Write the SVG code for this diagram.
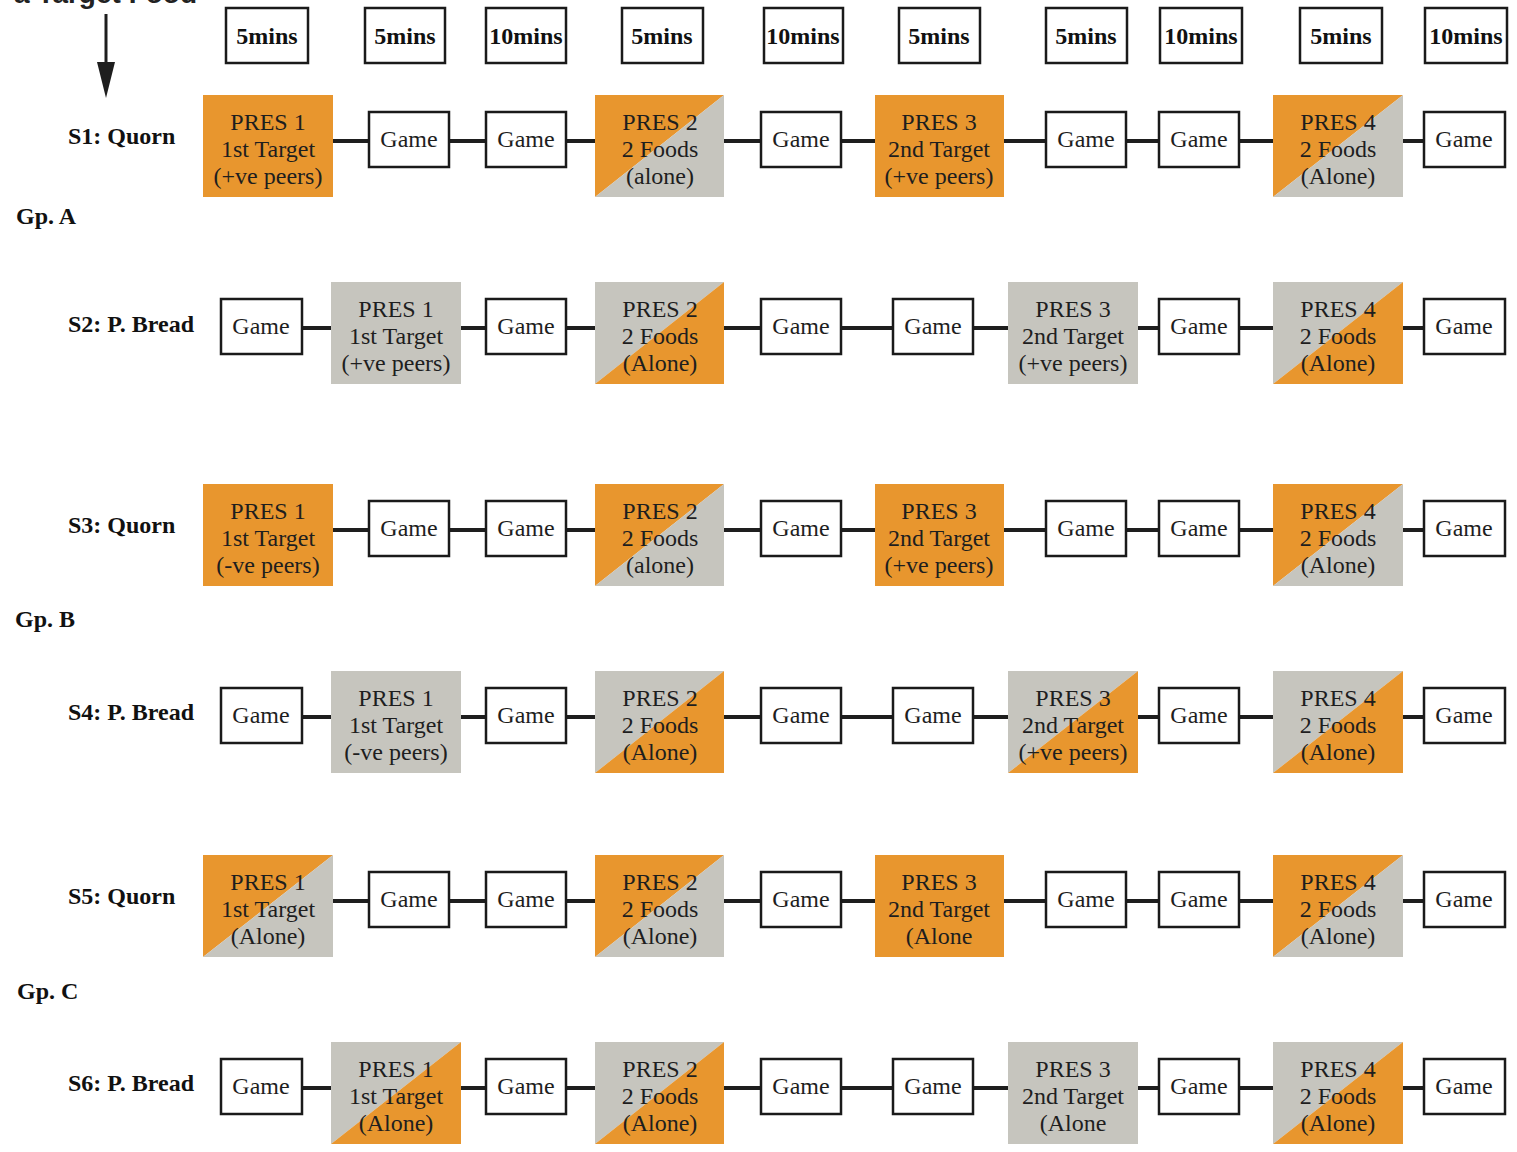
<svg xmlns="http://www.w3.org/2000/svg" width="1517" height="1152" viewBox="0 0 1517 1152">
<style>
.bg{fill:#fff}
.gm{fill:#fff;stroke:#1a1a1a;stroke-width:2.5}
.hd{fill:#fff;stroke:#1a1a1a;stroke-width:2.5}
.o{fill:#E8962E}
.gr{fill:#C6C5BE}
.t{font-family:"Liberation Serif",serif;font-size:24px;fill:#1e1e1e;text-anchor:middle}
.h{font-family:"Liberation Serif",serif;font-size:24px;font-weight:bold;fill:#111;text-anchor:middle}
.lb{font-family:"Liberation Serif",serif;font-size:24px;font-weight:bold;fill:#111}
.top{font-family:"Liberation Sans",sans-serif;font-size:28px;font-weight:bold;fill:#222}
.c{stroke:#1e1e1e;stroke-width:4;fill:none}
</style>
<rect class="bg" x="0" y="0" width="1517" height="1152"/>
<text class="top" x="14" y="3">a Target Food</text>
<g id="arrow">
<line x1="106" y1="14" x2="106" y2="64" stroke="#1e1e1e" stroke-width="3"/>
<polygon points="97,62 115,62 106,98" fill="#1e1e1e"/>
</g>
<g id="headers">
<g id="h1"><rect class="hd" x="226" y="8" width="82" height="55"/><text class="h" x="267" y="44">5mins</text></g>
<g id="h2"><rect class="hd" x="365" y="8" width="80" height="55"/><text class="h" x="405" y="44">5mins</text></g>
<g id="h3"><rect class="hd" x="486" y="8" width="80" height="55"/><text class="h" x="526" y="44">10mins</text></g>
<g id="h4"><rect class="hd" x="622" y="8" width="81" height="55"/><text class="h" x="662" y="44">5mins</text></g>
<g id="h5"><rect class="hd" x="764" y="8" width="79" height="55"/><text class="h" x="803" y="44">10mins</text></g>
<g id="h6"><rect class="hd" x="899" y="8" width="81" height="55"/><text class="h" x="939" y="44">5mins</text></g>
<g id="h7"><rect class="hd" x="1046" y="8" width="81" height="55"/><text class="h" x="1086" y="44">5mins</text></g>
<g id="h8"><rect class="hd" x="1160" y="8" width="82" height="55"/><text class="h" x="1201" y="44">10mins</text></g>
<g id="h9"><rect class="hd" x="1300" y="8" width="82" height="55"/><text class="h" x="1341" y="44">5mins</text></g>
<g id="h10"><rect class="hd" x="1425" y="8" width="82" height="55"/><text class="h" x="1466" y="44">10mins</text></g>
</g>
<g id="labels">
<text class="lb" x="68" y="144">S1: Quorn</text>
<text class="lb" x="16" y="224">Gp. A</text>
<text class="lb" x="68" y="332">S2: P. Bread</text>
<text class="lb" x="68" y="533">S3: Quorn</text>
<text class="lb" x="15" y="627">Gp. B</text>
<text class="lb" x="68" y="720">S4: P. Bread</text>
<text class="lb" x="68" y="904">S5: Quorn</text>
<text class="lb" x="17" y="999">Gp. C</text>
<text class="lb" x="68" y="1091">S6: P. Bread</text>
</g>
<g id="connectors">
<g transform="translate(0,95)">
<path class="c" d="M333,46H369M449,46H486M566,46H595M724,46H761M841,46H875M1004,46H1046M1126,46H1159M1239,46H1273M1403,46H1424"/>
</g>
<g transform="translate(0,282)">
<path class="c" d="M302,46H331M461,46H486M566,46H595M724,46H761M841,46H893M973,46H1008M1138,46H1159M1239,46H1273M1403,46H1424"/>
</g>
<g transform="translate(0,484)">
<path class="c" d="M333,46H369M449,46H486M566,46H595M724,46H761M841,46H875M1004,46H1046M1126,46H1159M1239,46H1273M1403,46H1424"/>
</g>
<g transform="translate(0,671)">
<path class="c" d="M302,46H331M461,46H486M566,46H595M724,46H761M841,46H893M973,46H1008M1138,46H1159M1239,46H1273M1403,46H1424"/>
</g>
<g transform="translate(0,855)">
<path class="c" d="M333,46H369M449,46H486M566,46H595M724,46H761M841,46H875M1004,46H1046M1126,46H1159M1239,46H1273M1403,46H1424"/>
</g>
<g transform="translate(0,1042)">
<path class="c" d="M302,46H331M461,46H486M566,46H595M724,46H761M841,46H893M973,46H1008M1138,46H1159M1239,46H1273M1403,46H1424"/>
</g>
</g>

<g id="row1" transform="translate(0,95)">
<g id="s1-p1"><rect class="o" x="203" y="0" width="130" height="102"/><text class="t" x="268" y="35">PRES 1</text><text class="t" x="268" y="62">1st Target</text><text class="t" x="268" y="89">(+ve peers)</text></g>
<g id="s1-g1"><rect class="gm" x="369" y="17" width="80" height="55"/><text class="t" x="409" y="52">Game</text></g>
<g id="s1-g2"><rect class="gm" x="486" y="17" width="80" height="55"/><text class="t" x="526" y="52">Game</text></g>
<g id="s1-p2"><polygon class="o" points="595,0 724,0 595,102"/><polygon class="gr" points="724,0 724,102 595,102"/><text class="t" x="660" y="35">PRES 2</text><text class="t" x="660" y="62">2 Foods</text><text class="t" x="660" y="89">(alone)</text></g>
<g id="s1-g3"><rect class="gm" x="761" y="17" width="80" height="55"/><text class="t" x="801" y="52">Game</text></g>
<g id="s1-p3"><rect class="o" x="875" y="0" width="129" height="102"/><text class="t" x="939" y="35">PRES 3</text><text class="t" x="939" y="62">2nd Target</text><text class="t" x="939" y="89">(+ve peers)</text></g>
<g id="s1-g4"><rect class="gm" x="1046" y="17" width="80" height="55"/><text class="t" x="1086" y="52">Game</text></g>
<g id="s1-g5"><rect class="gm" x="1159" y="17" width="80" height="55"/><text class="t" x="1199" y="52">Game</text></g>
<g id="s1-p4"><polygon class="o" points="1273,0 1403,0 1273,102"/><polygon class="gr" points="1403,0 1403,102 1273,102"/><text class="t" x="1338" y="35">PRES 4</text><text class="t" x="1338" y="62">2 Foods</text><text class="t" x="1338" y="89">(Alone)</text></g>
<g id="s1-g6"><rect class="gm" x="1424" y="17" width="81" height="55"/><text class="t" x="1464" y="52">Game</text></g>
</g>

<g id="row2" transform="translate(0,282)">
<g id="s2-g1"><rect class="gm" x="221" y="17" width="81" height="55"/><text class="t" x="261" y="52">Game</text></g>
<g id="s2-p1"><rect class="gr" x="331" y="0" width="130" height="102"/><text class="t" x="396" y="35">PRES 1</text><text class="t" x="396" y="62">1st Target</text><text class="t" x="396" y="89">(+ve peers)</text></g>
<g id="s2-g2"><rect class="gm" x="486" y="17" width="80" height="55"/><text class="t" x="526" y="52">Game</text></g>
<g id="s2-p2"><polygon class="gr" points="595,0 724,0 595,102"/><polygon class="o" points="724,0 724,102 595,102"/><text class="t" x="660" y="35">PRES 2</text><text class="t" x="660" y="62">2 Foods</text><text class="t" x="660" y="89">(Alone)</text></g>
<g id="s2-g3"><rect class="gm" x="761" y="17" width="80" height="55"/><text class="t" x="801" y="52">Game</text></g>
<g id="s2-g4"><rect class="gm" x="893" y="17" width="80" height="55"/><text class="t" x="933" y="52">Game</text></g>
<g id="s2-p3"><rect class="gr" x="1008" y="0" width="130" height="102"/><text class="t" x="1073" y="35">PRES 3</text><text class="t" x="1073" y="62">2nd Target</text><text class="t" x="1073" y="89">(+ve peers)</text></g>
<g id="s2-g5"><rect class="gm" x="1159" y="17" width="80" height="55"/><text class="t" x="1199" y="52">Game</text></g>
<g id="s2-p4"><polygon class="gr" points="1273,0 1403,0 1273,102"/><polygon class="o" points="1403,0 1403,102 1273,102"/><text class="t" x="1338" y="35">PRES 4</text><text class="t" x="1338" y="62">2 Foods</text><text class="t" x="1338" y="89">(Alone)</text></g>
<g id="s2-g6"><rect class="gm" x="1424" y="17" width="81" height="55"/><text class="t" x="1464" y="52">Game</text></g>
</g>

<g id="row3" transform="translate(0,484)">
<g id="s3-p1"><rect class="o" x="203" y="0" width="130" height="102"/><text class="t" x="268" y="35">PRES 1</text><text class="t" x="268" y="62">1st Target</text><text class="t" x="268" y="89">(-ve peers)</text></g>
<g id="s3-g1"><rect class="gm" x="369" y="17" width="80" height="55"/><text class="t" x="409" y="52">Game</text></g>
<g id="s3-g2"><rect class="gm" x="486" y="17" width="80" height="55"/><text class="t" x="526" y="52">Game</text></g>
<g id="s3-p2"><polygon class="o" points="595,0 724,0 595,102"/><polygon class="gr" points="724,0 724,102 595,102"/><text class="t" x="660" y="35">PRES 2</text><text class="t" x="660" y="62">2 Foods</text><text class="t" x="660" y="89">(alone)</text></g>
<g id="s3-g3"><rect class="gm" x="761" y="17" width="80" height="55"/><text class="t" x="801" y="52">Game</text></g>
<g id="s3-p3"><rect class="o" x="875" y="0" width="129" height="102"/><text class="t" x="939" y="35">PRES 3</text><text class="t" x="939" y="62">2nd Target</text><text class="t" x="939" y="89">(+ve peers)</text></g>
<g id="s3-g4"><rect class="gm" x="1046" y="17" width="80" height="55"/><text class="t" x="1086" y="52">Game</text></g>
<g id="s3-g5"><rect class="gm" x="1159" y="17" width="80" height="55"/><text class="t" x="1199" y="52">Game</text></g>
<g id="s3-p4"><polygon class="o" points="1273,0 1403,0 1273,102"/><polygon class="gr" points="1403,0 1403,102 1273,102"/><text class="t" x="1338" y="35">PRES 4</text><text class="t" x="1338" y="62">2 Foods</text><text class="t" x="1338" y="89">(Alone)</text></g>
<g id="s3-g6"><rect class="gm" x="1424" y="17" width="81" height="55"/><text class="t" x="1464" y="52">Game</text></g>
</g>

<g id="row4" transform="translate(0,671)">
<g id="s4-g1"><rect class="gm" x="221" y="17" width="81" height="55"/><text class="t" x="261" y="52">Game</text></g>
<g id="s4-p1"><rect class="gr" x="331" y="0" width="130" height="102"/><text class="t" x="396" y="35">PRES 1</text><text class="t" x="396" y="62">1st Target</text><text class="t" x="396" y="89">(-ve peers)</text></g>
<g id="s4-g2"><rect class="gm" x="486" y="17" width="80" height="55"/><text class="t" x="526" y="52">Game</text></g>
<g id="s4-p2"><polygon class="gr" points="595,0 724,0 595,102"/><polygon class="o" points="724,0 724,102 595,102"/><text class="t" x="660" y="35">PRES 2</text><text class="t" x="660" y="62">2 Foods</text><text class="t" x="660" y="89">(Alone)</text></g>
<g id="s4-g3"><rect class="gm" x="761" y="17" width="80" height="55"/><text class="t" x="801" y="52">Game</text></g>
<g id="s4-g4"><rect class="gm" x="893" y="17" width="80" height="55"/><text class="t" x="933" y="52">Game</text></g>
<g id="s4-p3"><polygon class="gr" points="1008,0 1138,0 1008,102"/><polygon class="o" points="1138,0 1138,102 1008,102"/><text class="t" x="1073" y="35">PRES 3</text><text class="t" x="1073" y="62">2nd Target</text><text class="t" x="1073" y="89">(+ve peers)</text></g>
<g id="s4-g5"><rect class="gm" x="1159" y="17" width="80" height="55"/><text class="t" x="1199" y="52">Game</text></g>
<g id="s4-p4"><polygon class="gr" points="1273,0 1403,0 1273,102"/><polygon class="o" points="1403,0 1403,102 1273,102"/><text class="t" x="1338" y="35">PRES 4</text><text class="t" x="1338" y="62">2 Foods</text><text class="t" x="1338" y="89">(Alone)</text></g>
<g id="s4-g6"><rect class="gm" x="1424" y="17" width="81" height="55"/><text class="t" x="1464" y="52">Game</text></g>
</g>

<g id="row5" transform="translate(0,855)">
<g id="s5-p1"><polygon class="o" points="203,0 333,0 203,102"/><polygon class="gr" points="333,0 333,102 203,102"/><text class="t" x="268" y="35">PRES 1</text><text class="t" x="268" y="62">1st Target</text><text class="t" x="268" y="89">(Alone)</text></g>
<g id="s5-g1"><rect class="gm" x="369" y="17" width="80" height="55"/><text class="t" x="409" y="52">Game</text></g>
<g id="s5-g2"><rect class="gm" x="486" y="17" width="80" height="55"/><text class="t" x="526" y="52">Game</text></g>
<g id="s5-p2"><polygon class="o" points="595,0 724,0 595,102"/><polygon class="gr" points="724,0 724,102 595,102"/><text class="t" x="660" y="35">PRES 2</text><text class="t" x="660" y="62">2 Foods</text><text class="t" x="660" y="89">(Alone)</text></g>
<g id="s5-g3"><rect class="gm" x="761" y="17" width="80" height="55"/><text class="t" x="801" y="52">Game</text></g>
<g id="s5-p3"><rect class="o" x="875" y="0" width="129" height="102"/><text class="t" x="939" y="35">PRES 3</text><text class="t" x="939" y="62">2nd Target</text><text class="t" x="939" y="89">(Alone</text></g>
<g id="s5-g4"><rect class="gm" x="1046" y="17" width="80" height="55"/><text class="t" x="1086" y="52">Game</text></g>
<g id="s5-g5"><rect class="gm" x="1159" y="17" width="80" height="55"/><text class="t" x="1199" y="52">Game</text></g>
<g id="s5-p4"><polygon class="o" points="1273,0 1403,0 1273,102"/><polygon class="gr" points="1403,0 1403,102 1273,102"/><text class="t" x="1338" y="35">PRES 4</text><text class="t" x="1338" y="62">2 Foods</text><text class="t" x="1338" y="89">(Alone)</text></g>
<g id="s5-g6"><rect class="gm" x="1424" y="17" width="81" height="55"/><text class="t" x="1464" y="52">Game</text></g>
</g>

<g id="row6" transform="translate(0,1042)">
<g id="s6-g1"><rect class="gm" x="221" y="17" width="81" height="55"/><text class="t" x="261" y="52">Game</text></g>
<g id="s6-p1"><polygon class="gr" points="331,0 461,0 331,102"/><polygon class="o" points="461,0 461,102 331,102"/><text class="t" x="396" y="35">PRES 1</text><text class="t" x="396" y="62">1st Target</text><text class="t" x="396" y="89">(Alone)</text></g>
<g id="s6-g2"><rect class="gm" x="486" y="17" width="80" height="55"/><text class="t" x="526" y="52">Game</text></g>
<g id="s6-p2"><polygon class="gr" points="595,0 724,0 595,102"/><polygon class="o" points="724,0 724,102 595,102"/><text class="t" x="660" y="35">PRES 2</text><text class="t" x="660" y="62">2 Foods</text><text class="t" x="660" y="89">(Alone)</text></g>
<g id="s6-g3"><rect class="gm" x="761" y="17" width="80" height="55"/><text class="t" x="801" y="52">Game</text></g>
<g id="s6-g4"><rect class="gm" x="893" y="17" width="80" height="55"/><text class="t" x="933" y="52">Game</text></g>
<g id="s6-p3"><rect class="gr" x="1008" y="0" width="130" height="102"/><text class="t" x="1073" y="35">PRES 3</text><text class="t" x="1073" y="62">2nd Target</text><text class="t" x="1073" y="89">(Alone</text></g>
<g id="s6-g5"><rect class="gm" x="1159" y="17" width="80" height="55"/><text class="t" x="1199" y="52">Game</text></g>
<g id="s6-p4"><polygon class="gr" points="1273,0 1403,0 1273,102"/><polygon class="o" points="1403,0 1403,102 1273,102"/><text class="t" x="1338" y="35">PRES 4</text><text class="t" x="1338" y="62">2 Foods</text><text class="t" x="1338" y="89">(Alone)</text></g>
<g id="s6-g6"><rect class="gm" x="1424" y="17" width="81" height="55"/><text class="t" x="1464" y="52">Game</text></g>
</g>
</svg>
